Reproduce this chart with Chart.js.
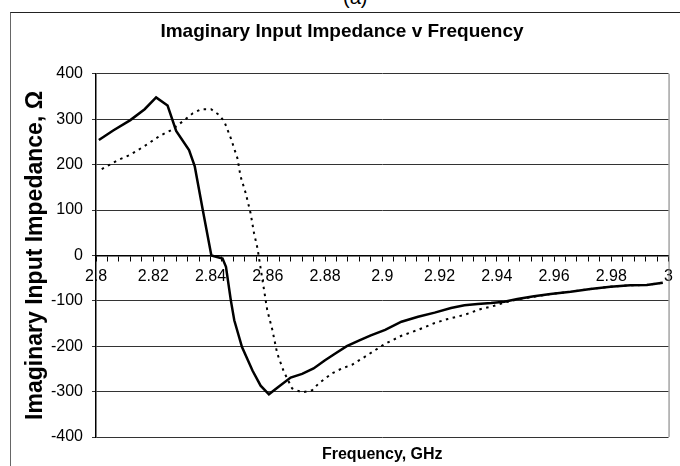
<!DOCTYPE html>
<html>
<head>
<meta charset="utf-8">
<script src="https://cdn.jsdelivr.net/npm/chart.js@4.4.1/dist/chart.umd.min.js"></script>
<style>
  html, body { margin: 0; padding: 0; background: #fff; }
  #wrap { position: relative; width: 680px; height: 466px; overflow: hidden; }
  #frame { position: absolute; left: 10px; top: 12px; width: 680px; height: 470px; border-top: 1.5px solid #222; border-left: 1px solid #666; }
  #tag { position: absolute; left: 343px; top: -14px; font: 20px Arial, "Liberation Sans", sans-serif; color: #000; }
  canvas { position: absolute; left: 0; top: 0; }
</style>
</head>
<body>
<div id="wrap">
  <div id="frame"></div>
  <div id="tag">(a)</div>
  <canvas id="chart" width="680" height="466"></canvas>
</div>
<script>
// Imaginary part of input impedance (ohms) against frequency (GHz), two designs.
const freqSolid = [2.801, 2.806, 2.812, 2.817, 2.821, 2.825, 2.828, 2.8325, 2.8345, 2.8373,
  2.8403, 2.8442, 2.8454, 2.8471, 2.8483, 2.851, 2.8547, 2.8575, 2.8604, 2.8639,
  2.868, 2.872, 2.876, 2.880, 2.8836, 2.8876, 2.892, 2.896, 2.901, 2.9067,
  2.9125, 2.9183, 2.924, 2.9287, 2.9333, 2.938, 2.9426, 2.9472, 2.953, 2.9588,
  2.9658, 2.9727, 2.9797, 2.9866, 2.9924, 2.998];
const imagSolid = [254, 275, 298, 322, 348, 330, 274, 232, 196, 100,
  0, -7, -25, -99, -143, -202, -254, -287, -306, -289,
  -269, -261, -249, -231, -216, -200, -187, -176, -164, -146,
  -135, -126, -116, -110, -107, -105, -102, -96, -90, -85,
  -80, -74, -69, -66, -65, -60];

const freqDotted = [2.802, 2.8077, 2.8118, 2.817, 2.8222, 2.8263, 2.8309, 2.8338, 2.8367, 2.8402,
  2.8431, 2.8448, 2.8471, 2.8494, 2.8505, 2.8523, 2.854, 2.8552, 2.8564, 2.8575,
  2.8587, 2.8598, 2.8616, 2.8633, 2.8656, 2.8685, 2.872, 2.8755, 2.8778, 2.8824,
  2.8859, 2.8894, 2.894, 2.9009, 2.9067, 2.9125, 2.9183, 2.9229, 2.9287, 2.9345,
  2.9391, 2.9438, 2.9472, 2.953, 2.9588, 2.9658, 2.9727, 2.9797, 2.9866, 2.9924, 2.998];
const imagDotted = [190, 210, 221, 241, 263, 276, 298, 313, 322, 322,
  309, 295, 258, 214, 174, 137, 93, 49, 16, -28,
  -76, -120, -164, -216, -256, -293, -302, -297, -282, -260,
  -249, -241, -223, -195, -177, -164, -149, -140, -131, -118,
  -111, -102, -97, -91, -85, -80, -74, -69, -66, -65, -60];

// axis ranges: labelled every 0.02 GHz, minor tick marks every 0.004 GHz
const freqMin = 2.8, freqMax = 3.0, freqMinor = 0.004, freqMajor = 0.02;
const imagMin = -400, imagMax = 400, imagStep = 100;

Chart.defaults.font.family = 'Arial, "Liberation Sans", Helvetica, sans-serif';
Chart.defaults.color = "#000";

const toPoints = (xs, ys) => xs.map((x, i) => ({ x, y: ys[i] }));

// thin grey right-hand edge of the plot area
const plotEdge = {
  id: "plotEdge",
  beforeDatasetsDraw(chart) {
    const { ctx, chartArea } = chart;
    ctx.save();
    ctx.strokeStyle = "#777";
    ctx.lineWidth = 1;
    ctx.beginPath();
    ctx.moveTo(chartArea.right + 0.5, chartArea.top);
    ctx.lineTo(chartArea.right + 0.5, chartArea.bottom);
    ctx.stroke();
    ctx.restore();
  }
};

new Chart(document.getElementById("chart").getContext("2d"), {
  type: "line",
  data: {
    datasets: [
      {
        data: toPoints(freqSolid, imagSolid),
        borderColor: "#000",
        borderWidth: 2.5,
        pointRadius: 0,
        tension: 0,
      },
      {
        data: toPoints(freqDotted, imagDotted),
        borderColor: "#000",
        borderWidth: 2,
        borderDash: [2.5, 4.5],
        pointRadius: 0,
        tension: 0,
      },
    ],
  },
  options: {
    responsive: false,
    animation: false,
    layout: { padding: { left: 12, right: 8, top: 12, bottom: 0 } },
    scales: {
      x: {
        type: "linear",
        position: { y: 0 },
        min: freqMin, max: freqMax,
        ticks: {
          stepSize: freqMinor,
          autoSkip: false,
          maxRotation: 0,
          padding: 7,
          font: { size: 16 },
          callback: (v) => {
            const k = Math.round(v * 1000);
            return k % Math.round(freqMajor * 1000) === 0 ? String(parseFloat(v.toFixed(2))) : "";
          },
        },
        grid: { drawOnChartArea: false, drawTicks: true, tickLength: 5, color: "#000" },
        border: { display: true, color: "#000", width: 1.5 },
      },
      xTitle: {
        type: "linear",
        position: "bottom",
        min: freqMin, max: freqMax,
        ticks: { display: false },
        grid: { display: false },
        border: { display: false },
        title: {
          display: true, text: "Frequency, GHz", color: "#000",
          font: { size: 16, weight: "bold" }, padding: { top: 0, bottom: 1.5 },
        },
        afterFit(scale) { scale.height = 29; },
      },
      y: {
        min: imagMin, max: imagMax,
        ticks: { stepSize: imagStep, padding: 9, font: { size: 16 } },
        grid: { color: "#333", lineWidth: 1, tickLength: 4 },
        border: { display: true, color: "#000", width: 1.5 },
        title: {
          display: true, text: "Imaginary Input Impedance, Ω", color: "#000",
          font: { size: 23, weight: "bold" }, padding: { top: 10, bottom: 0 },
        },
        afterFit(scale) { scale.width = 84; },
      },
    },
    plugins: {
      legend: { display: false },
      tooltip: { enabled: false },
      title: {
        display: true,
        text: "Imaginary Input Impedance v Frequency",
        color: "#000",
        font: { size: 19, weight: "bold" },
        padding: { top: 8.5, bottom: 30.5 },
      },
    },
  },
  plugins: [plotEdge],
});
</script>
</body>
</html>
